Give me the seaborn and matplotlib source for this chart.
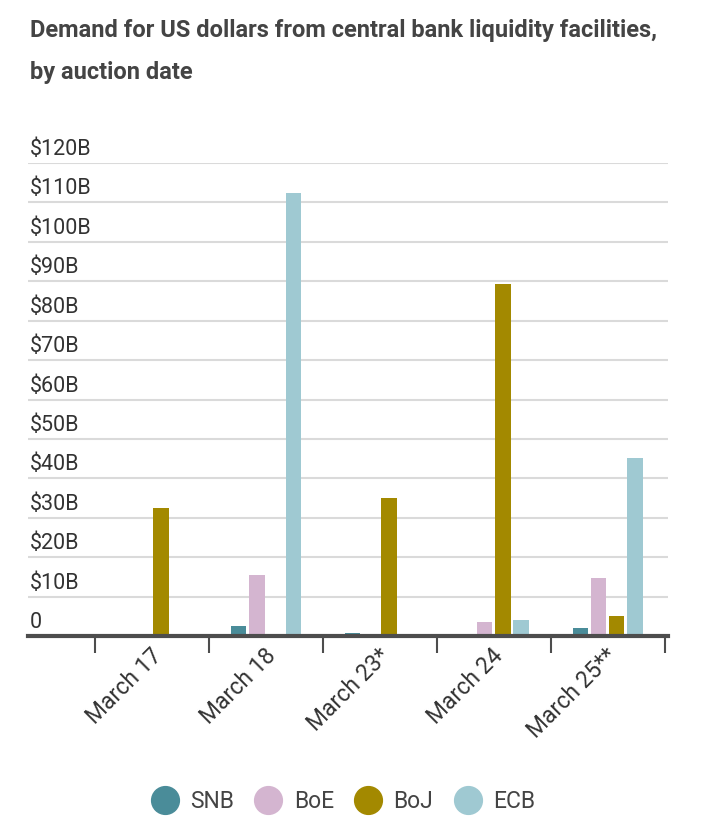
import matplotlib
matplotlib.use("Agg")
import matplotlib.pyplot as plt
import matplotlib.transforms as mtransforms
from matplotlib.lines import Line2D
import seaborn as sns
import pandas as pd

dates = ["March 17", "March 18", "March 23*", "March 24", "March 25**"]
banks = ["SNB", "BoE", "BoJ", "ECB"]
snb = [0.0, 2.6, 0.8, 0.5, 2.1]
boe = [0.0, 15.5, 0.0, 3.6, 14.7]
boj = [32.5, 0.0, 35.0, 89.3, 5.1]
ecb = [0.0, 112.3, 0.0, 4.1, 45.2]
yticks = [0, 10, 20, 30, 40, 50, 60, 70, 80, 90, 100, 110, 120]
ytick_labels = ["0", "$10B", "$20B", "$30B", "$40B", "$50B", "$60B", "$70B",
                "$80B", "$90B", "$100B", "$110B", "$120B"]
colors = ["#4a8c99", "#d4b5d0", "#a38900", "#9fc9d2"]

rows = []
for bank, vals in zip(banks, [snb, boe, boj, ecb]):
    for d, v in zip(dates, vals):
        rows.append({"date": d, "bank": bank, "value": v})
df = pd.DataFrame(rows)

sns.set_theme(style="white")
plt.rcParams["font.family"] = ["Roboto", "DejaVu Sans"]
text_color = "#444444"

fig = plt.figure(figsize=(7.09, 8.26), dpi=100)
ax = fig.add_axes([28 / 709, 1 - 636 / 826, (668 - 28) / 709, (636 - 163) / 826])

sns.barplot(data=df, x="date", y="value", hue="bank", order=dates,
            hue_order=banks, palette=colors, width=0.64, gap=0.15,
            saturation=1, ax=ax, legend=False, linewidth=0)

ax.set_xlim(-1.09, 4.53)
ax.set_ylim(0, 120)
for y in yticks[1:]:
    ax.axhline(y, color="#dadada", lw=1.5, zorder=0)
ax.set_yticks([])
ax.set_xlabel("")
ax.set_ylabel("")
for s in ["top", "right", "left"]:
    ax.spines[s].set_visible(False)
ax.spines["bottom"].set_color("#4d4d4d")
ax.spines["bottom"].set_linewidth(3)

ax.set_xticks(range(len(dates)))
ax.set_xticklabels(dates, rotation=45, ha="right", rotation_mode="anchor",
                   fontsize=16.5, color="#333333")
ax.tick_params(axis="x", which="major", length=0, pad=6)
ax.set_xticks([i - 0.5 for i in range(len(dates) + 1)], minor=True)
ax.tick_params(axis="x", which="minor", length=12, width=1.5, color="#4d4d4d",
               bottom=True)
for lab in ax.get_xticklabels():
    lab.set_transform(lab.get_transform() +
                      mtransforms.ScaledTranslation(-2 / 100, 0, fig.dpi_scale_trans))

trans = mtransforms.blended_transform_factory(ax.transAxes, ax.transData)
offset = mtransforms.ScaledTranslation(0, 3 / 100, fig.dpi_scale_trans)
for y, lab in zip(yticks, ytick_labels):
    ax.text(0.003, y, lab, transform=trans + offset, ha="left", va="bottom",
            fontsize=15.5, color="#333333", clip_on=False)

fig.text(30 / 709, 1 - 30 / 826, "Demand for US dollars from central bank liquidity facilities,",
         fontsize=17, fontweight="bold", color=text_color, va="center", ha="left")
fig.text(30 / 709, 1 - 72 / 826, "by auction date",
         fontsize=17, fontweight="bold", color=text_color, va="center", ha="left")

handles = [Line2D([0], [0], marker="o", linestyle="none", markersize=20,
                  markerfacecolor=c, markeredgecolor=c) for c in colors]
fig.legend(handles, banks, loc="center", bbox_to_anchor=(343 / 709, 1 - 802 / 826),
           ncol=4, frameon=False, fontsize=16.5, labelcolor=text_color,
           handletextpad=0.5, columnspacing=0.9, handlelength=1.2)

fig.savefig("out.png", dpi=100)
